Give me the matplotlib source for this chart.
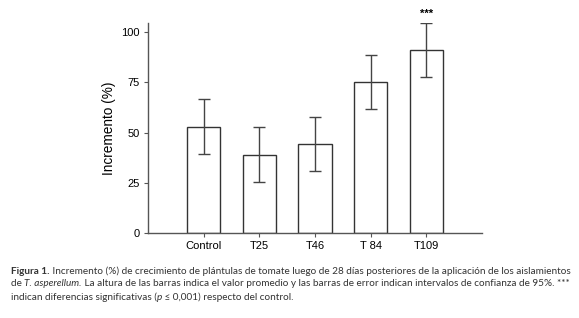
import matplotlib
matplotlib.use('Agg')
import matplotlib.pyplot as plt
from matplotlib.text import Annotation

# datos
tratamientos = ['Control', 'T25', 'T46', 'T 84', 'T109']
incremento = [52.9, 39.0, 44.3, 75.1, 90.9]
ic95 = [13.6, 13.5, 13.5, 13.5, 13.5]
signif = ['', '', '', '', '***']

plt.rcParams['font.family'] = ['Liberation Sans', 'DejaVu Sans']

fig = plt.figure(figsize=(5.79, 3.18), dpi=100)
fig.patch.set_facecolor('white')
ax = fig.add_axes([0.2556, 0.2673, 0.5769, 0.6604])

x = list(range(len(tratamientos)))
ax.bar(x, incremento, width=0.6, color='white', edgecolor='#333333', linewidth=1.0, zorder=2)
ax.errorbar(x, incremento, yerr=ic95, fmt='none', ecolor='#444444',
            elinewidth=1.0, capsize=4, capthick=1.0, zorder=3)

# asteriscos de significancia
for xi, m, e, s in zip(x, incremento, ic95, signif):
    if s:
        ax.annotate(s, xy=(xi, m + e), xytext=(0, 3), textcoords='offset points',
                    ha='center', va='bottom', fontsize=8, fontweight='bold',
                    annotation_clip=False)

ax.set_xlim(-1, 5)
ax.set_ylim(0, 104.5)
ax.set_yticks([0, 25, 50, 75, 100])
ax.set_xticks(x)
ax.set_xticklabels(tratamientos)
ax.set_ylabel('Incremento (%)', fontsize=9.8, labelpad=4)

for side in ['top', 'right']:
    ax.spines[side].set_visible(False)
for side in ['left', 'bottom']:
    ax.spines[side].set_color('#555555')
    ax.spines[side].set_linewidth(1.0)
ax.tick_params(axis='both', labelsize=8, length=3, width=0.8, color='#555555',
               direction='out', pad=3)

# pie de figura (tramos con distinto estilo encadenados)
cap_font = ['Lato', 'DejaVu Sans']
cap_size = 7.2
cap_color = '#333333'
lineas = [
    [('Figura 1.', 'bold', 'normal'),
     (' Incremento (%) de crecimiento de plántulas de tomate luego de 28 días '
      'posteriores de la aplicación de los aislamientos', 'normal', 'normal')],
    [('de ', 'normal', 'normal'), ('T. asperellum.', 'normal', 'italic'),
     (' La altura de las barras indica el valor promedio y las barras de error '
      'indican intervalos de confianza de 95%. ***', 'normal', 'normal')],
    [('indican diferencias significativas (', 'normal', 'normal'),
     ('p', 'normal', 'italic'),
     (' ≤ 0,001) respecto del control.', 'normal', 'normal')],
]
y0 = 1 - 271 / 318.0
dy = 13 / 318.0
for i, partes in enumerate(lineas):
    prev = None
    for texto, peso, estilo in partes:
        kw = dict(fontsize=cap_size, family=cap_font, fontweight=peso,
                  fontstyle=estilo, color=cap_color, va='center', ha='left')
        if prev is None:
            prev = fig.text(11 / 579.0, y0 - i * dy, texto, **kw)
        else:
            prev = fig.add_artist(Annotation(texto, xy=(1, 0.5), xycoords=prev, **kw))

fig.savefig('out.png', dpi=100, facecolor='white')
